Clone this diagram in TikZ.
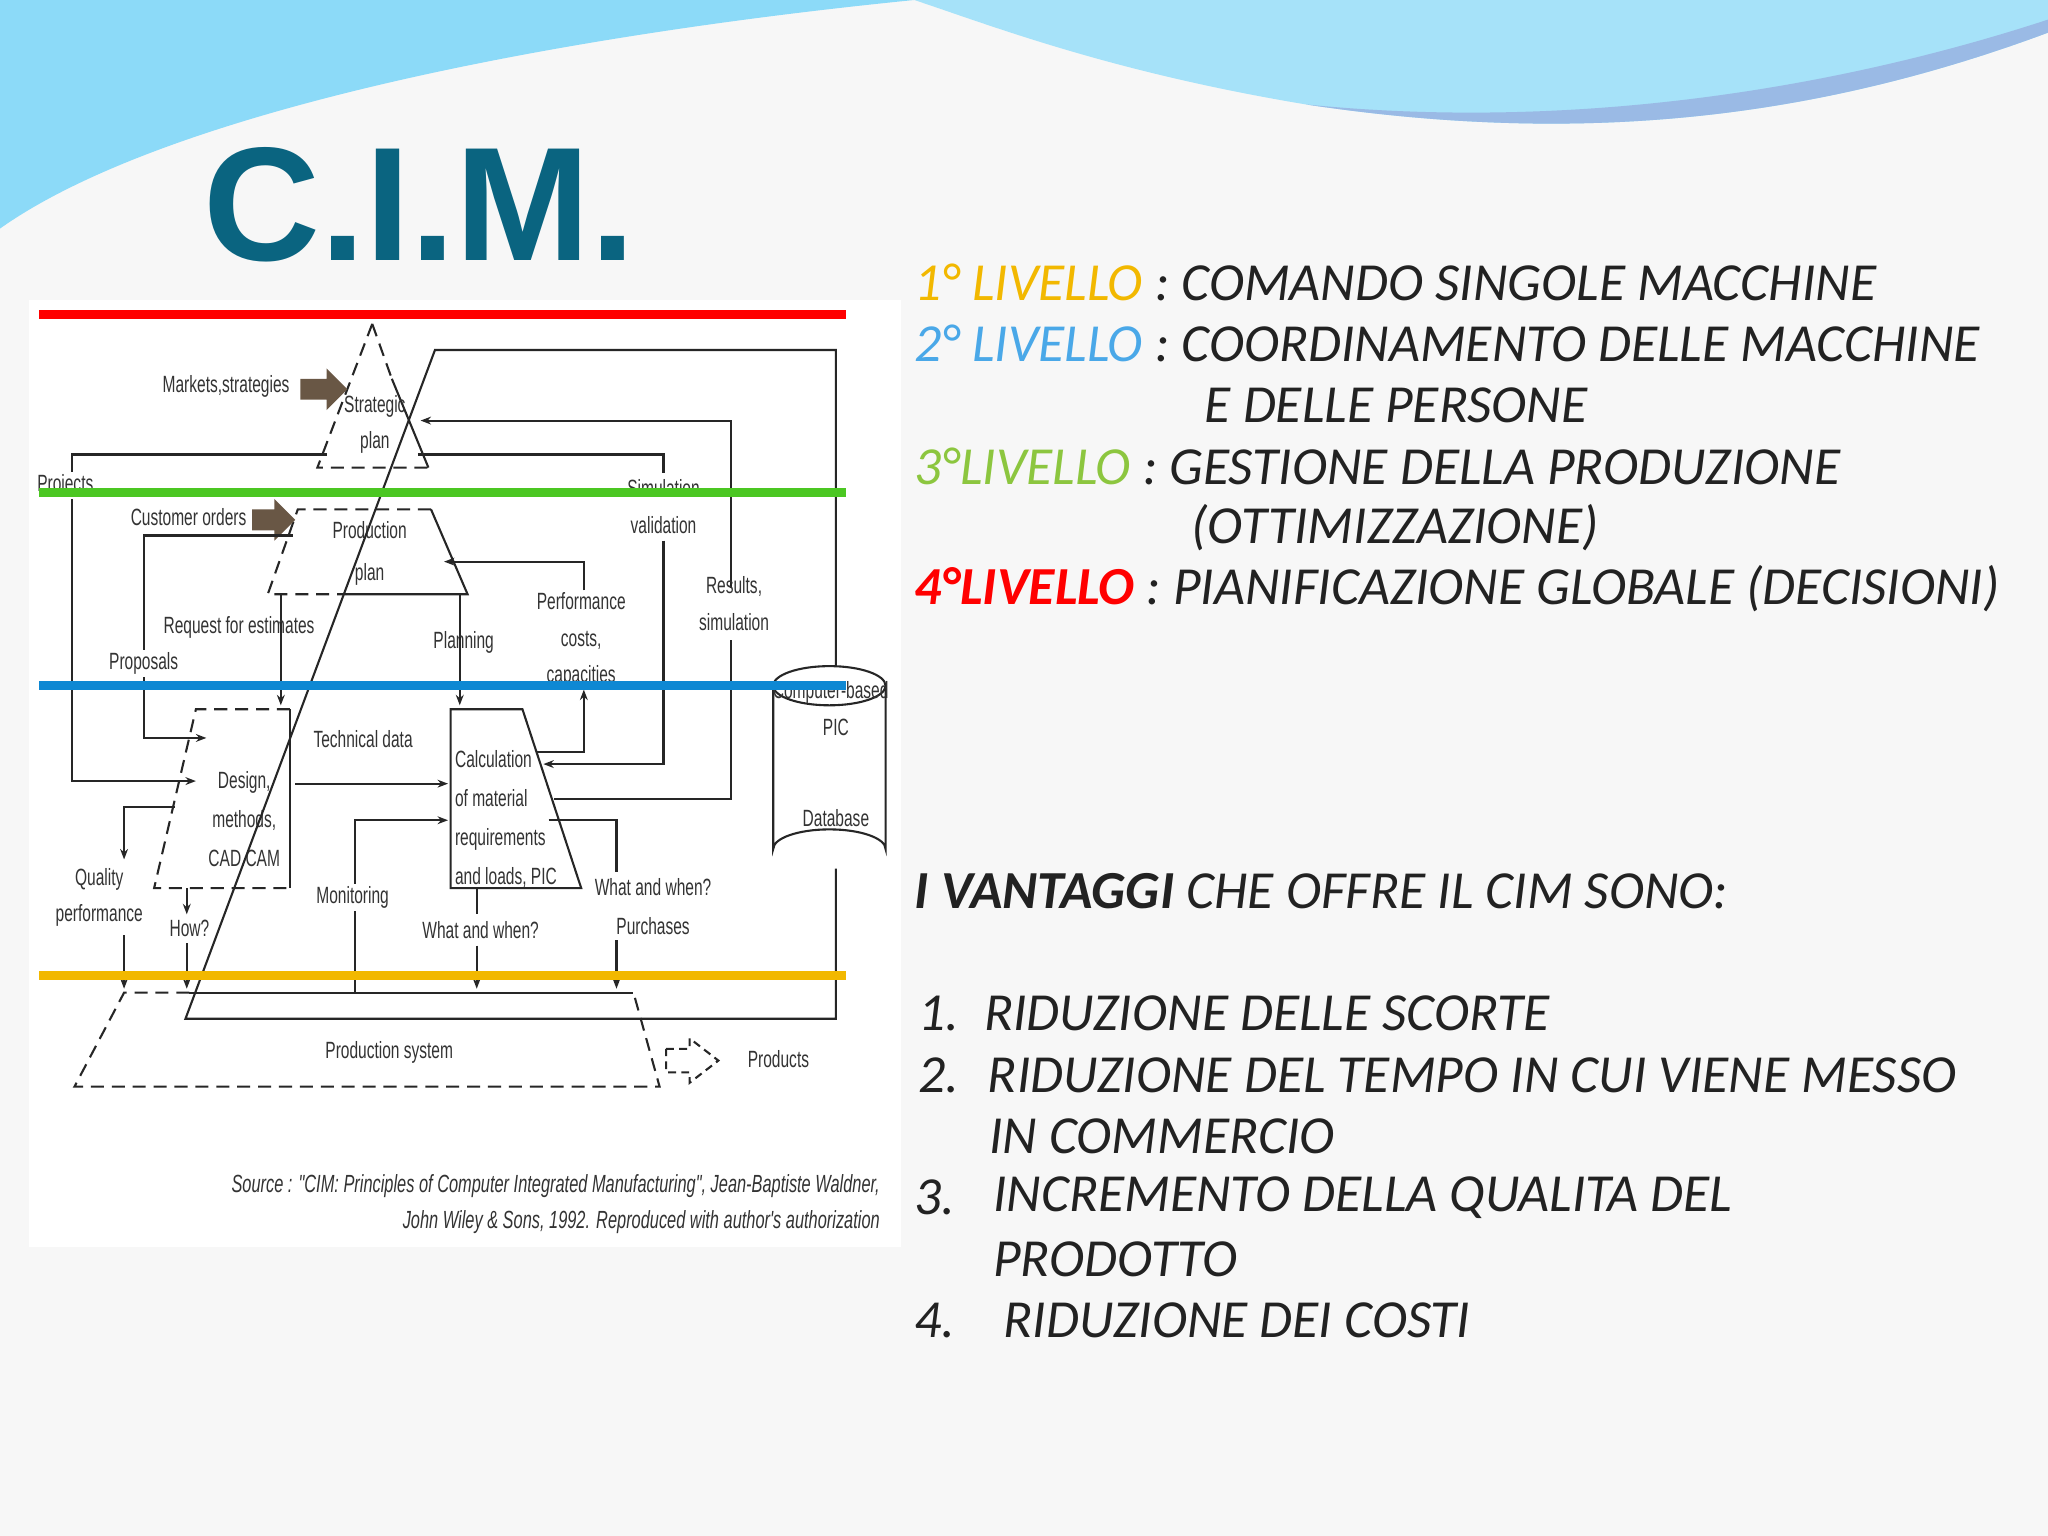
\documentclass[tikz,border=0pt]{standalone}
\usepackage{fontspec}
\setmainfont{Carlito}
\newfontfamily\narrowf[FakeStretch=0.66]{Liberation Sans}
\newfontfamily\titlef{Liberation Sans}
\usetikzlibrary{arrows.meta}
\definecolor{cimteal}{HTML}{0A6480}
\definecolor{lvone}{HTML}{F2B800}
\definecolor{lvtwo}{HTML}{4AA8E8}
\definecolor{lvthree}{HTML}{8CC63F}
\definecolor{lvfour}{HTML}{FF0000}
\definecolor{txt}{HTML}{222222}
\tikzset{
 dl/.style={line width=0.8pt,black!85},
 ar/.style={dl,-{Stealth[length=4pt,width=3pt]}},
 dsh/.style={dl,dash pattern=on 5pt off 3pt},
 lab/.style={font=\narrowf\fontsize{9}{10}\selectfont,text=black!80,inner sep=1pt,align=center},
 band/.style={line width=3.5pt},
 rt/.style={font=\itshape\fontsize{20.5}{22}\selectfont,text=txt,anchor=west,inner sep=0pt},
}
\begin{document}
\begin{tikzpicture}[x=0.5pt,y=-0.5pt]
\useasboundingbox (0,0) rectangle (1568,1176);
\fill[white!97!blue!40!gray!10] (0,0) rectangle (1568,1176);
% top waves
\fill[cyan!45!white] (0,0) -- (700,0) .. controls (400,30) and (120,90) .. (0,175) -- cycle;
\fill[cyan!35!white] (700,0) -- (1568,0) -- (1568,25) .. controls (1380,95) and (1200,110) .. (1000,80) .. controls (850,55) and (760,20) .. (700,0);
\fill[cyan!55!blue!40!white] (1568,25) .. controls (1380,95) and (1200,110) .. (1000,80) .. controls (1200,100) and (1400,70) .. (1568,15) -- cycle;
% title
\node[font=\titlef\bfseries\fontsize{62}{62}\selectfont,text=cimteal,inner sep=0pt] (title) at (321,157) {C.I.M.};
% diagram background
\fill[white] (22,230) rectangle (690,955);
% strategic triangle
\coordinate (sA) at (285,248); \coordinate (sL) at (243,358); \coordinate (sR) at (328,358);
\draw[dsh] (sA) -- (sL) -- (sR); \draw[dsh] (sA) -- (300,290); \draw[dl] (300,290) -- (sR);
\node[lab] (strat) at (287,325) {Strategic\\[4pt]plan};
% production plan
\coordinate (pTL) at (228,390); \coordinate (pTR) at (330,390); \coordinate (pBL) at (205,455); \coordinate (pBR) at (358,455);
\draw[dsh] (pTR) -- (pTL) -- (pBL) -- (265,455); \draw[dl] (265,455) -- (pBR) -- (pTR);
\node[lab] (prod) at (283,424) {Production\\[6pt]plan};
% design
\draw[dsh] (222,543) -- (150,543) -- (118,680) -- (222,680); \draw[dl] (222,543) -- (222,680);
\node[lab] (design) at (187,627) {Design,\\[5pt]methods,\\[5pt]CAD.CAM};
% calc
\draw[dl] (345,543) -- (400,543) -- (445,680) -- (345,680) -- cycle;
\node[lab,align=left,anchor=north west] (calc) at (346,572) {Calculation\\[5pt]of material\\[5pt]requirements\\[5pt]and loads, PIC};
% production system
\draw[dsh] (145,760) -- (95,760) -- (57,832) -- (505,832) -- (485,760);
\draw[dl] (145,760) -- (485,760);
\node[lab] (psys) at (298,806) {Production system};
% long slanted line
\draw[dl] (640,510) -- (640,268) -- (333,268) -- (142,780) -- (640,780) -- (640,665);
% database
\draw[dl] (592,525) -- (592,650) arc (180:360:43 and 15) -- (678,525);
\draw[dl] (635,525) ellipse (43 and 15);
\node[lab] (cb) at (636,530) {Computer-based};
\node[lab] (pic) at (640,557) {PIC};
\node[lab] (db) at (640,626) {Database};
% big arrows
\fill[brown!35!black!80] (230,290) -- (250,290) -- (250,282) -- (266,298) -- (250,314) -- (250,306) -- (230,306) -- cycle;
\fill[brown!35!black!80] (193,390) -- (210,390) -- (210,382) -- (226,398) -- (210,414) -- (210,406) -- (193,406) -- cycle;
\node[lab,anchor=east] (mk) at (224,296) {Markets,strategies};
\node[lab,anchor=east] (co) at (191,396) {Customer orders};
% projects
\draw[ar] (250,348) -- (55,348) -- (55,598) -- (150,598);
\node[lab,fill=white] (proj) at (50,372) {Projects};
% results simulation
\draw[ar] (560,450) -- (560,322) -- (322,322);
\draw[dl] (560,490) -- (560,612) -- (424,612);
\node[lab] (res) at (562,462) {Results,\\[4pt]simulation};
% simulation validation
\draw[dl] (320,348) -- (508,348) -- (508,362);
\draw[ar] (508,414) -- (508,585) -- (416,585);
\node[lab] (sim) at (508,388) {Simulation\\[4pt]validation};
% performance
\draw[ar] (410,576) -- (447,576) -- (447,528);
\draw[ar] (447,452) -- (447,430) -- (340,430);
\node[lab] (perf) at (445,490) {Performance\\[4pt]costs,\\[4pt]capacities};
% planning
\draw[ar] (352,455) -- (352,540);
\node[lab] (plan) at (355,492) {Planning};
% request for estimates
\draw[ar] (215,455) -- (215,540);
\node[lab] (req) at (183,480) {Request for estimates};
% proposals
\draw[ar] (224,410) -- (110,410) -- (110,565) -- (158,565);
\node[lab,fill=white] (propo) at (110,508) {Proposals};
% technical data
\draw[ar] (226,600) -- (343,600);
\node[lab] (tech) at (278,566) {Technical data};
% quality
\draw[ar] (134,618) -- (95,618) -- (95,658);
\draw[ar] (95,716) -- (95,757);
\node[lab] (qual) at (76,687) {Quality\\[4pt]performance};
% how
\draw[ar] (143,680) -- (143,700); \draw[ar] (143,722) -- (143,757);
\node[lab] (how) at (145,711) {How?};
% monitoring
\draw[ar] (272,760) -- (272,628) -- (343,628);
\node[lab,fill=white] (mon) at (270,687) {Monitoring};
% what and when
\draw[dl] (365,680) -- (365,700); \draw[ar] (365,724) -- (365,757);
\node[lab] (ww) at (368,712) {What and when?};
% purchases
\draw[dl] (420,628) -- (472,628) -- (472,668);
\draw[ar] (472,720) -- (472,757);
\node[lab] (pur) at (500,694) {What and when?\\[5pt]Purchases};
% products
\draw[dl,dash pattern=on 3pt off 2pt] (510,803) -- (528,803) -- (528,795) -- (550,812) -- (528,829) -- (528,821) -- (510,821) -- cycle;
\node[lab] (prd) at (596,811) {Products};
% source
\node[lab,font=\narrowf\itshape\fontsize{9.5}{11}\selectfont,align=right,anchor=east] (src) at (676,922) {Source : "CIM: Principles of Computer Integrated Manufacturing", Jean-Baptiste Waldner,\\[3pt]John Wiley \& Sons, 1992. Reproduced with author's authorization};
% colored bands
\draw[band,lvfour] (30,241) -- (648,241);
\draw[band,lvthree!60!green!90!black] (30,377) -- (648,377);
\draw[band,cyan!70!blue] (30,525) -- (648,525);
\draw[band,lvone] (30,747) -- (648,747);
% right text
\node[rt] (l1) at (700,216) {\textcolor{lvone}{1° LIVELLO} : COMANDO SINGOLE MACCHINE};
\node[rt] (l2) at (700,263) {\textcolor{lvtwo}{2° LIVELLO} : COORDINAMENTO DELLE MACCHINE};
\node[rt] (l2b) at (922,310) {E DELLE PERSONE};
\node[rt] (l3) at (700,357) {\textcolor{lvthree}{3°LIVELLO} : GESTIONE DELLA PRODUZIONE};
\node[rt] (l3b) at (912,404) {(OTTIMIZZAZIONE)};
\node[rt] (l4) at (700,451) {\textcolor{lvfour}{\bfseries 4°LIVELLO} : PIANIFICAZIONE GLOBALE (DECISIONI)};
\node[rt] (v) at (700,682) {\bfseries I VANTAGGI \mdseries CHE OFFRE IL CIM SONO:};
\node[rt] (n1) at (703,776) {1.}; \node[rt] (i1) at (753,776) {RIDUZIONE DELLE SCORTE};
\node[rt] (n2) at (703,823) {2.}; \node[rt] (i2) at (756,823) {RIDUZIONE DEL TEMPO IN CUI VIENE MESSO};
\node[rt] (i2b) at (757,870) {IN COMMERCIO};
\node[rt] (n3) at (700,917) {3.}; \node[rt] (i3) at (760,917) {INCREMENTO DELLA QUALITA DEL};
\node[rt] (i3b) at (760,964) {PRODOTTO};
\node[rt] (n4) at (700,1011) {4.}; \node[rt] (i4) at (768,1011) {RIDUZIONE DEI COSTI};
\end{tikzpicture}
\end{document}
